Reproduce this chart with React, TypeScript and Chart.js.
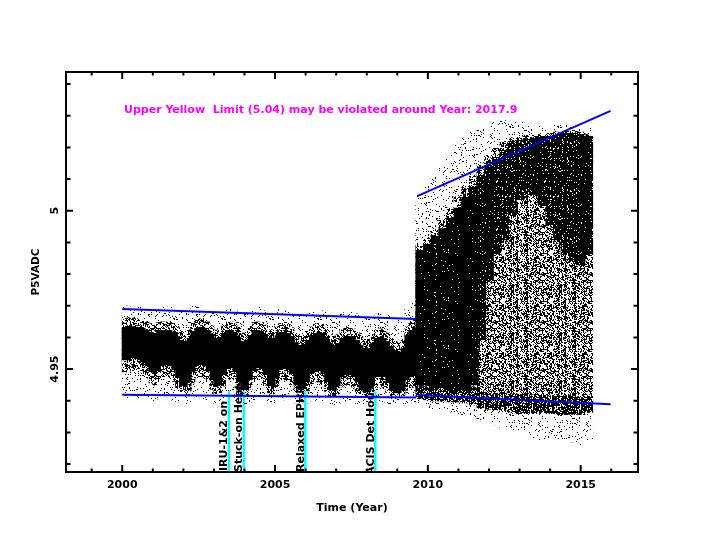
import React, { useEffect, useRef } from "react";
import { Chart, registerables } from "chart.js";

Chart.register(...registerables);

// ---------- axis ranges ----------
const X_MIN = 1998.16;
const X_MAX = 2016.875;
const Y_MIN = 4.9175;
const Y_MAX = 5.0438;

// ---------- ticks ----------
const xMajorTicks = [2000, 2005, 2010, 2015];
const xTickLabels = ["2000", "2005", "2010", "2015"];
const xMinorTicks = [1999, 2001, 2002, 2003, 2004, 2006, 2007, 2008, 2009, 2011, 2012, 2013, 2014, 2016];
const yMajorTicks = [4.95, 5.0];
const yTickLabels = ["4.95", "5"];
const yMinorTicks = [4.92, 4.93, 4.94, 4.96, 4.97, 4.98, 4.99, 5.01, 5.02, 5.03, 5.04];

const xTitle = "Time (Year)";
const yTitle = "P5VADC";
const noteText = "Upper Yellow  Limit (5.04) may be violated around Year: 2017.9";

// ---------- data before 2009.6 (0.125 yr bins) ----------
const preYears = [
  2000.0625, 2000.1875, 2000.3125, 2000.4375, 2000.5625, 2000.6875, 2000.8125, 2000.9375,
  2001.0625, 2001.1875, 2001.3125, 2001.4375, 2001.5625, 2001.6875, 2001.8125, 2001.9375,
  2002.0625, 2002.1875, 2002.3125, 2002.4375, 2002.5625, 2002.6875, 2002.8125, 2002.9375,
  2003.0625, 2003.1875, 2003.3125, 2003.4375, 2003.5625, 2003.6875, 2003.8125, 2003.9375,
  2004.0625, 2004.1875, 2004.3125, 2004.4375, 2004.5625, 2004.6875, 2004.8125, 2004.9375,
  2005.0625, 2005.1875, 2005.3125, 2005.4375, 2005.5625, 2005.6875, 2005.8125, 2005.9375,
  2006.0625, 2006.1875, 2006.3125, 2006.4375, 2006.5625, 2006.6875, 2006.8125, 2006.9375,
  2007.0625, 2007.1875, 2007.3125, 2007.4375, 2007.5625, 2007.6875, 2007.8125, 2007.9375,
  2008.0625, 2008.1875, 2008.3125, 2008.4375, 2008.5625, 2008.6875, 2008.8125, 2008.9375,
  2009.0625, 2009.1875, 2009.3125, 2009.4375, 2009.5625,
];
const preDenseHi = [
  4.9633, 4.9636, 4.9636, 4.9633, 4.9633, 4.963, 4.9623, 4.9617,
  4.9614, 4.962, 4.9623, 4.9623, 4.9623, 4.9617, 4.9604, 4.9592,
  4.9588, 4.9598, 4.9617, 4.963, 4.9633, 4.963, 4.9623, 4.9611,
  4.9598, 4.9601, 4.9614, 4.9623, 4.9623, 4.9617, 4.9601, 4.9588,
  4.9592, 4.9607, 4.962, 4.9623, 4.962, 4.9611, 4.9598, 4.9598,
  4.9607, 4.9617, 4.9617, 4.9614, 4.9604, 4.9585, 4.9576, 4.9579,
  4.9592, 4.9607, 4.9614, 4.9617, 4.9614, 4.9601, 4.9582, 4.9576,
  4.9582, 4.9598, 4.9604, 4.9604, 4.9601, 4.9592, 4.9576, 4.9566,
  4.9566, 4.9582, 4.9598, 4.9601, 4.9598, 4.9588, 4.9569, 4.956,
  4.9554, 4.9566, 4.9607, 4.9623, 4.963,
];
const preDenseLo = [
  4.9528, 4.9528, 4.9535, 4.9535, 4.9528, 4.9522, 4.9509, 4.9491,
  4.9484, 4.9497, 4.9509, 4.9513, 4.9509, 4.9497, 4.9472, 4.9449,
  4.9443, 4.9459, 4.9491, 4.9509, 4.9513, 4.9509, 4.9497, 4.9465,
  4.9443, 4.9449, 4.9481, 4.95, 4.9503, 4.9491, 4.9459, 4.9434,
  4.9434, 4.9465, 4.9497, 4.9503, 4.95, 4.9481, 4.9446, 4.9443,
  4.9472, 4.9497, 4.95, 4.9497, 4.9484, 4.9449, 4.9434, 4.9437,
  4.9459, 4.9487, 4.9494, 4.9494, 4.9484, 4.9459, 4.9434, 4.9431,
  4.9446, 4.9475, 4.9481, 4.9481, 4.9475, 4.9459, 4.9434, 4.9427,
  4.9427, 4.9449, 4.9475, 4.9478, 4.9475, 4.9456, 4.9431, 4.9424,
  4.9424, 4.9434, 4.9465, 4.9475, 4.9478,
];
const preMedHi = [
  4.966, 4.9662, 4.9662, 4.966, 4.9658, 4.9655, 4.965, 4.9645,
  4.9642, 4.9648, 4.965, 4.965, 4.9648, 4.9645, 4.9632, 4.962,
  4.9615, 4.9625, 4.9645, 4.9658, 4.966, 4.9658, 4.965, 4.9638,
  4.9625, 4.963, 4.9642, 4.965, 4.965, 4.9645, 4.963, 4.9615,
  4.962, 4.9635, 4.9648, 4.965, 4.9648, 4.964, 4.9625, 4.9625,
  4.9635, 4.9645, 4.9645, 4.9642, 4.9632, 4.9612, 4.9605, 4.9608,
  4.962, 4.9635, 4.9642, 4.9645, 4.9642, 4.9628, 4.961, 4.9605,
  4.961, 4.9625, 4.9632, 4.9632, 4.9628, 4.962, 4.9605, 4.9595,
  4.9595, 4.961, 4.9625, 4.9628, 4.9625, 4.9615, 4.9598, 4.959,
  4.9585, 4.9595, 4.9635, 4.965, 4.9658,
];
const preMedLo = [
  4.949, 4.949, 4.9495, 4.9495, 4.949, 4.9485, 4.947, 4.9455,
  4.9448, 4.946, 4.9472, 4.9475, 4.9472, 4.946, 4.944, 4.9425,
  4.942, 4.943, 4.9455, 4.9472, 4.9475, 4.9472, 4.946, 4.9435,
  4.942, 4.9422, 4.9445, 4.9465, 4.9468, 4.9455, 4.9432, 4.9418,
  4.9418, 4.9435, 4.9462, 4.9468, 4.9465, 4.9448, 4.9422, 4.942,
  4.944, 4.9462, 4.9465, 4.9462, 4.945, 4.9425, 4.9418, 4.9418,
  4.943, 4.9452, 4.9458, 4.9458, 4.945, 4.9428, 4.9415, 4.9415,
  4.942, 4.9442, 4.9448, 4.9448, 4.9442, 4.9428, 4.9415, 4.9412,
  4.9412, 4.9422, 4.944, 4.9442, 4.944, 4.9425, 4.9412, 4.941,
  4.941, 4.9415, 4.9432, 4.944, 4.9442,
];
const preSparseHi = [
  4.9695, 4.97, 4.969, 4.9695, 4.97, 4.969, 4.9685, 4.969,
  4.9685, 4.969, 4.9695, 4.969, 4.97, 4.9695, 4.9685, 4.968,
  4.968, 4.969, 4.97, 4.9705, 4.97, 4.9695, 4.969, 4.9685,
  4.968, 4.9685, 4.969, 4.9695, 4.97, 4.969, 4.968, 4.9675,
  4.9675, 4.9685, 4.969, 4.9695, 4.969, 4.9685, 4.968, 4.9675,
  4.968, 4.969, 4.9685, 4.969, 4.9685, 4.9675, 4.967, 4.967,
  4.9675, 4.968, 4.9685, 4.969, 4.9685, 4.968, 4.967, 4.9665,
  4.9665, 4.9675, 4.968, 4.968, 4.9685, 4.9675, 4.9665, 4.966,
  4.966, 4.967, 4.9675, 4.968, 4.9675, 4.967, 4.9665, 4.966,
  4.966, 4.9665, 4.969, 4.97, 4.971,
];
const preSparseLo = [
  4.941, 4.9405, 4.941, 4.9408, 4.9405, 4.941, 4.9405, 4.94,
  4.94, 4.9405, 4.9408, 4.9405, 4.9408, 4.94, 4.9395, 4.9392,
  4.939, 4.9395, 4.9402, 4.9405, 4.9408, 4.9405, 4.94, 4.9395,
  4.939, 4.9392, 4.9398, 4.9405, 4.9402, 4.94, 4.9395, 4.9388,
  4.9388, 4.9395, 4.9402, 4.9405, 4.9402, 4.9398, 4.9392, 4.939,
  4.9395, 4.94, 4.9402, 4.94, 4.9398, 4.9392, 4.9388, 4.9388,
  4.9392, 4.9398, 4.94, 4.94, 4.9398, 4.9392, 4.9388, 4.9385,
  4.9388, 4.9395, 4.9398, 4.9398, 4.9395, 4.939, 4.9385, 4.9385,
  4.9385, 4.939, 4.9395, 4.9395, 4.9395, 4.939, 4.9385, 4.9382,
  4.9382, 4.9385, 4.939, 4.9392, 4.9395,
];

// ---------- data after 2009.6 (0.25 yr bins) ----------
const postYears = [
  2009.75, 2010.0, 2010.25, 2010.5, 2010.75, 2011.0, 2011.25, 2011.5, 2011.75, 2012.0, 2012.25, 2012.5,
  2012.75, 2013.0, 2013.25, 2013.5, 2013.75, 2014.0, 2014.25, 2014.5, 2014.75, 2015.0, 2015.25,
];
const postSparseHi = [
  5.005, 5.0081, 5.0113, 5.0144, 5.0176, 5.0208, 5.023, 5.0249, 5.0261, 5.0271, 5.028, 5.0286,
  5.0286, 5.028, 5.0271, 5.0271, 5.0271, 5.0271, 5.0271, 5.0271, 5.0271, 5.0268, 5.0261,
];
const postSparseLo = [
  4.9386, 4.9377, 4.9371, 4.9371, 4.9364, 4.9355, 4.9355, 4.9345, 4.9339, 4.9333, 4.9323, 4.9314,
  4.9307, 4.9301, 4.9292, 4.9282, 4.9276, 4.9276, 4.9276, 4.9269, 4.9269, 4.926, 4.9276,
];
const postMedHi = [
  4.9892, 4.9914, 4.9939, 4.9971, 5.0009, 5.0046, 5.0078, 5.011, 5.0144, 5.0176, 5.0198, 5.0217,
  5.023, 5.0233, 5.0236, 5.0239, 5.0242, 5.0245, 5.0249, 5.0252, 5.0252, 5.0249, 5.0242,
];
const postMedLo = [
  4.9408, 4.9408, 4.9402, 4.9402, 4.9396, 4.9396, 4.9396, 4.9386, 4.9377, 4.9377, 4.9371, 4.9371,
  4.9364, 4.9358, 4.9358, 4.9358, 4.9358, 4.9358, 4.9355, 4.9355, 4.9355, 4.9355, 4.9364,
];
const postFootHi = [
  4.9445, 4.9445, 4.9442, 4.9442, 4.944, 4.9438, 4.9438, 4.9445, 4.943, 4.9428, 4.9425, 4.9425,
  4.9422, 4.9422, 4.942, 4.942, 4.9418, 4.9418, 4.9415, 4.9415, 4.9415, 4.9412, 4.9415,
];
const postFootLo = [
  4.9405, 4.9402, 4.9398, 4.9398, 4.9395, 4.9395, 4.9392, 4.939, 4.9375, 4.9372, 4.937, 4.9368,
  4.9365, 4.9362, 4.9362, 4.9365, 4.9362, 4.936, 4.9358, 4.9358, 4.9356, 4.9356, 4.9362,
];
const postDenseHi = [
  4.9876, 4.9895, 4.992, 4.9945, 4.9978, 5.0009, 5.0043, 5.0075, 5.0113, 5.0144, 5.017, 5.0192,
  5.0214, 5.0223, 5.0226, 5.023, 5.0233, 5.0236, 5.0242, 5.0245, 5.0245, 5.0242, 5.0236,
];
const postDenseLo = [
  4.9449, 4.9446, 4.944, 4.944, 4.944, 4.9434, 4.9434, 4.9449, 4.9592, 4.9781, 4.986, 4.9907,
  4.9986, 5.0034, 5.005, 5.005, 5.0018, 4.9955, 4.9907, 4.986, 4.9838, 4.9828, 4.986,
];

// ---------- limit / trend lines ----------
const upperPreX = [2000.0, 2009.62];
const upperPreY = [4.969, 4.9658];
const lowerPreX = [2000.0, 2009.62];
const lowerPreY = [4.9419, 4.941];
const upperPostX = [2009.67, 2015.98];
const upperPostY = [5.0047, 5.0315];
const lowerPostX = [2009.67, 2015.98];
const lowerPostY = [4.9418, 4.9389];

// ---------- events ----------
const eventYears = [2003.49, 2003.98, 2005.99, 2008.28];
const eventLabels = ["IRU-1&2 on", "Stuck-on Heater", "Relaxed EPHIN", "ACIS Det Housing"];
const eventTop = 4.943;
const eventTextTop = 4.9447;
const eventTextDrop = [-1, 0, 0, 3];

function hash(a: number, b: number, s: number): number {
  let h = (Math.imul(a + 11, 374761393) + Math.imul(b + 7, 668265263) + Math.imul(s + 3, 1442695041)) | 0;
  h = Math.imul(h ^ (h >>> 13), 1274126177);
  h ^= h >>> 16;
  h = Math.imul(h ^ (h >>> 15), 2246822519 | 0);
  h ^= h >>> 13;
  return (h >>> 0) / 4294967296;
}

function makeTile(density: number, seed: number, streak: number): HTMLCanvasElement {
  const size = 48;
  const c = document.createElement("canvas");
  c.width = size;
  c.height = size;
  const g = c.getContext("2d")!;
  const img = g.createImageData(size, size);
  for (let yy = 0; yy < size; yy++) {
    for (let xx = 0; xx < size; xx++) {
      const col = hash(xx, 999, seed + 17);
      const d = Math.min(1, density * (1 - streak / 2 + streak * col));
      const i = (yy * size + xx) * 4;
      if (hash(xx, yy, seed) < d) {
        img.data[i] = 0;
        img.data[i + 1] = 0;
        img.data[i + 2] = 0;
        img.data[i + 3] = 255;
      }
    }
  }
  g.putImageData(img, 0, 0);
  return c;
}

const FONT = "'DejaVu Sans', 'Liberation Sans', sans-serif";

const decorPlugin = {
  id: "decor",
  beforeDatasetsDraw(chart: any) {
    const { ctx, chartArea: a, scales } = chart;
    const xs = scales.x;
    const ys = scales.y;
    ctx.save();
    const clipTop = ys.getPixelForValue(eventTextTop);
    ctx.beginPath();
    ctx.rect(a.left, clipTop, a.right - a.left, a.bottom - clipTop);
    ctx.clip();
    ctx.fillStyle = "#000";
    ctx.font = `bold 11px ${FONT}`;
    ctx.textAlign = "left";
    ctx.textBaseline = "alphabetic";
    eventYears.forEach((yr, i) => {
      const px = xs.getPixelForValue(yr) - 1.5;
      ctx.save();
      ctx.translate(px, a.bottom + eventTextDrop[i]);
      ctx.rotate(-Math.PI / 2);
      ctx.fillText(eventLabels[i], 0, 0);
      ctx.restore();
    });
    ctx.restore();
  },
  afterDraw(chart: any) {
    const { ctx, chartArea: a, scales } = chart;
    const xs = scales.x;
    const ys = scales.y;
    ctx.save();
    ctx.strokeStyle = "#000";
    ctx.lineWidth = 2;
    ctx.strokeRect(a.left, a.top, a.right - a.left, a.bottom - a.top);
    ctx.beginPath();
    const xt = (v: number, len: number) => {
      const p = xs.getPixelForValue(v);
      ctx.moveTo(p, a.bottom);
      ctx.lineTo(p, a.bottom - len);
      ctx.moveTo(p, a.top);
      ctx.lineTo(p, a.top + len);
    };
    const yt = (v: number, len: number) => {
      const p = ys.getPixelForValue(v);
      ctx.moveTo(a.left, p);
      ctx.lineTo(a.left + len, p);
      ctx.moveTo(a.right, p);
      ctx.lineTo(a.right - len, p);
    };
    xMinorTicks.forEach((v) => xt(v, 3.5));
    xMajorTicks.forEach((v) => xt(v, 7));
    yMinorTicks.forEach((v) => yt(v, 4.5));
    yMajorTicks.forEach((v) => yt(v, 7));
    ctx.stroke();

    ctx.fillStyle = "#000";
    ctx.font = `bold 11px ${FONT}`;
    ctx.textAlign = "center";
    ctx.textBaseline = "alphabetic";
    xMajorTicks.forEach((v, i) => {
      ctx.fillText(xTickLabels[i], xs.getPixelForValue(v), a.bottom + 15.5);
    });
    ctx.fillText(xTitle, (a.left + a.right) / 2, a.bottom + 39);
    yMajorTicks.forEach((v, i) => {
      ctx.save();
      ctx.translate(a.left - 8.5, ys.getPixelForValue(v));
      ctx.rotate(-Math.PI / 2);
      ctx.fillText(yTickLabels[i], 0, 0);
      ctx.restore();
    });
    ctx.save();
    ctx.font = `bold 10.5px ${FONT}`;
    ctx.translate(a.left - 26.7, (a.top + a.bottom) / 2);
    ctx.rotate(-Math.PI / 2);
    ctx.fillText(yTitle, 0, 0);
    ctx.restore();

    ctx.fillStyle = "#ff00ff";
    ctx.font = `bold 11px ${FONT}`;
    ctx.textAlign = "left";
    ctx.fillText(noteText, a.left + 58, a.top + 40.7);
    ctx.restore();
  },
};

export default function App() {
  const ref = useRef<HTMLCanvasElement>(null);
  useEffect(() => {
    document.body.style.margin = "0";
    const canvas = ref.current!;
    const c2d = canvas.getContext("2d")!;
    const sparsePat = c2d.createPattern(makeTile(0.085, 1, 0.6), "repeat")!;
    const medPat = c2d.createPattern(makeTile(0.43, 2, 0.8), "repeat")!;
    const footPat = c2d.createPattern(makeTile(0.6, 5, 0.9), "repeat")!;
    const darkPat = c2d.createPattern(makeTile(0.87, 3, 0.3), "repeat")!;
    const massPat = c2d.createPattern(makeTile(0.95, 4, 0.1), "repeat")!;

    const bar = (xs: number[], lo: number[], hi: number[], axis: string, color: any, order: number) => ({
      type: "bar" as const,
      xAxisID: axis,
      yAxisID: "y",
      data: xs.map((x, i) => ({ x, y: [lo[i], hi[i]] })),
      backgroundColor: color,
      borderWidth: 0,
      grouped: false,
      barPercentage: 1.25,
      categoryPercentage: 1,
      order,
    });
    const line = (xs: number[], ys: number[], color: string, width: number, order: number) => ({
      type: "line" as const,
      xAxisID: "x",
      yAxisID: "y",
      data: xs.map((x, i) => ({ x, y: ys[i] })),
      borderColor: color,
      borderWidth: width,
      pointRadius: 0,
      fill: false,
      order,
    });

    const eventSets = eventYears.map((yr) => line([yr, yr], [eventTop, Y_MIN - 0.003], "#00ffff", 2.5, 10));
    const postDenseColor = (c: any) => (c.raw && c.raw.x < 2011.7 ? massPat : darkPat);

    const chart = new Chart(canvas, {
      type: "bar",
      data: {
        datasets: [
          ...eventSets,
          bar(preYears, preSparseLo, preSparseHi, "x", sparsePat, 6),
          bar(postYears, postSparseLo, postSparseHi, "xb", sparsePat, 6),
          bar(preYears, preMedLo, preMedHi, "x", medPat, 5),
          bar(postYears, postMedLo, postMedHi, "xb", medPat, 5),
          bar(postYears, postFootLo, postFootHi, "xb", footPat, 4.5),
          bar(preYears, preDenseLo, preDenseHi, "x", "#000000", 4),
          bar(postYears, postDenseLo, postDenseHi, "xb", postDenseColor, 4),
          line(upperPreX, upperPreY, "#0000ff", 2, 0),
          line(lowerPreX, lowerPreY, "#0000ff", 2, 0),
          line(upperPostX, upperPostY, "#0000ff", 2, 0),
          line(lowerPostX, lowerPostY, "#0000ff", 2, 0),
        ] as any,
      },
      options: {
        responsive: false,
        animation: false,
        events: [],
        layout: { padding: { left: 66, top: 72, right: 66, bottom: 72 } },
        plugins: { legend: { display: false }, tooltip: { enabled: false }, title: { display: false } },
        scales: {
          x: { type: "linear", axis: "x", position: "bottom", display: false, min: X_MIN, max: X_MAX, offset: false, bounds: "data" },
          xb: { type: "linear", axis: "x", position: "bottom", display: false, min: X_MIN, max: X_MAX, offset: false, bounds: "data" },
          y: { type: "linear", display: false, min: Y_MIN, max: Y_MAX, beginAtZero: false, bounds: "data" },
        } as any,
      },
      plugins: [decorPlugin],
    });
    return () => chart.destroy();
  }, []);
  return (
    <div style={{ width: 704, height: 544 }}>
      <canvas ref={ref} width={704} height={544} style={{ display: "block" }} />
    </div>
  );
}
